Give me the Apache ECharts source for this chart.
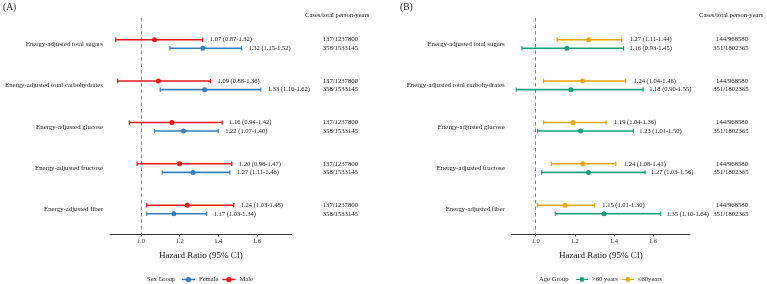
<!DOCTYPE html>
<html>
<head>
<meta charset="utf-8">
<script src="https://cdn.jsdelivr.net/npm/echarts@6/dist/echarts.min.js"></script>
<style>
  html, body { margin: 0; padding: 0; background: #fff; }
  #chart { width: 767px; height: 284px; }
</style>
</head>
<body>
<div id="chart"></div>
<script>
const categories = [
  'Energy-adjusted total sugars',
  'Energy-adjusted total carbohydrates',
  'Energy-adjusted glucose',
  'Energy-adjusted fructose',
  'Energy-adjusted fiber'
];
const tickValues = [1.0, 1.2, 1.4, 1.6];

// panel A: sex groups
const maleHR = [1.07, 1.09, 1.16, 1.20, 1.24];
const maleLow = [0.87, 0.88, 0.94, 0.98, 1.03];
const maleHigh = [1.32, 1.36, 1.42, 1.47, 1.48];
const femaleHR = [1.32, 1.33, 1.22, 1.27, 1.17];
const femaleLow = [1.15, 1.10, 1.07, 1.11, 1.03];
const femaleHigh = [1.52, 1.62, 1.40, 1.46, 1.34];
const maleCases = '137/1237800';
const femaleCases = '358/1533145';

// panel B: age groups
const youngHR = [1.27, 1.24, 1.19, 1.24, 1.15];
const youngLow = [1.11, 1.04, 1.04, 1.08, 1.01];
const youngHigh = [1.44, 1.46, 1.36, 1.41, 1.30];
const oldHR = [1.16, 1.18, 1.23, 1.27, 1.35];
const oldLow = [0.93, 0.90, 1.01, 1.03, 1.10];
const oldHigh = [1.45, 1.55, 1.50, 1.56, 1.64];
const youngCases = '144/968580';
const oldCases = '351/1802365';

const FONT = '"Liberation Serif", "DejaVu Serif", serif';
const RED = '#e41a1c', BLUE = '#377eb8', GREEN = '#15a07a', ORANGE = '#e9a50c';
const LEGEND_ICON = 'path://M0,4h20v2h-20z M10,1a4,4 0 1,1 0,8a4,4 0 1,1 0,-8z';

function rows(hr, lo, hi) {
  return hr.map((v, i) => [v, lo[i], hi[i], i + 1]);
}

function ciSeries(name, color, data, axis, opts) {
  return {
    name: name,
    type: 'custom',
    xAxisIndex: axis,
    yAxisIndex: axis,
    itemStyle: { color: color },
    data: data,
    encode: { x: [0, 1, 2], y: 3 },
    z: 5,
    renderItem: function (params, api) {
      const yv = api.value(3);
      const cs = params.coordSys;
      const pL = api.coord([api.value(1), yv]);
      const pH = api.coord([api.value(2), yv]);
      const pM = api.coord([api.value(0), yv]);
      const y = pL[1] + opts.offset;
      const label = api.value(0).toFixed(2) + ' (' + api.value(1).toFixed(2) + '-' + api.value(2).toFixed(2) + ')';
      const kids = [
        { type: 'line', shape: { x1: pL[0], y1: y, x2: pH[0], y2: y }, style: { stroke: color, lineWidth: 1.6 } },
        { type: 'line', shape: { x1: pL[0], y1: y - 2.2, x2: pL[0], y2: y + 2.2 }, style: { stroke: color, lineWidth: 1.2 } },
        { type: 'line', shape: { x1: pH[0], y1: y - 2.2, x2: pH[0], y2: y + 2.2 }, style: { stroke: color, lineWidth: 1.2 } },
        { type: 'circle', shape: { cx: pM[0], cy: y, r: 2.5 }, style: { fill: color } },
        { type: 'text', x: pH[0] + opts.gap, y: y,
          style: { text: label, fontSize: 6.5, fontFamily: FONT, fill: '#222', align: 'left', verticalAlign: 'middle' } },
        { type: 'text', x: cs.x + cs.width + opts.caseDx, y: y,
          style: { text: opts.cases, fontSize: 6.7, fontFamily: FONT, fill: '#222', align: opts.caseAlign, verticalAlign: 'middle' } }
      ];
      if (opts.cats) {
        kids.push({ type: 'text', x: cs.x - 7, y: pL[1],
          style: { text: categories[yv - 1], fontSize: 6.8, fontFamily: FONT, fill: '#222', align: 'right', verticalAlign: 'middle' } });
      }
      return { type: 'group', children: kids };
    },
    markLine: opts.ref ? {
      silent: true,
      symbol: 'none',
      label: { show: false },
      lineStyle: { type: [3.5, 3], color: '#8a8a8a', width: 1 },
      data: [{ xAxis: 1 }]
    } : undefined
  };
}

function xAxisFor(idx, min, max) {
  return {
    type: 'value',
    gridIndex: idx,
    min: min,
    max: max,
    splitLine: { show: false },
    axisLine: { show: true, lineStyle: { color: '#333', width: 1 } },
    axisTick: { show: true, length: 2.5, customValues: tickValues, lineStyle: { color: '#333' } },
    axisLabel: { customValues: tickValues, formatter: v => v.toFixed(1), fontSize: 6.6, fontFamily: FONT, color: '#333', margin: 4 },
    name: 'Hazard Ratio (95% CI)',
    nameLocation: 'middle',
    nameGap: 17,
    nameTextStyle: { fontSize: 9, fontFamily: FONT, color: '#222' }
  };
}

function yAxisFor(idx) {
  return {
    type: 'value',
    gridIndex: idx,
    inverse: true,
    min: 0.372,
    max: 5.592,
    show: false
  };
}

function label(text, left, top, size) {
  return { text: text, left: left, top: top, padding: 0,
    textStyle: { fontSize: size, fontWeight: 'normal', fontFamily: FONT, color: '#222' } };
}

const chart = echarts.init(document.getElementById('chart'), null, { renderer: 'canvas' });
chart.setOption({
  animation: false,
  backgroundColor: '#fff',
  title: [
    label('(A)', 3, 2, 9.5),
    label('(B)', 400, 2, 9.5),
    label('Cases/total person-years', 305, 12, 6.6),
    label('Cases/total person-years', 699, 12, 6.6),
    label('Sex Group', 147, 275.5, 6.6),
    label('Age Group', 539, 275.5, 6.6)
  ],
  legend: [
    {
      left: 182, top: 276, padding: 0, itemWidth: 13, itemHeight: 6, itemGap: 4,
      textStyle: { fontSize: 6.6, fontFamily: FONT, color: '#222', padding: [0, 0, 0, -1] },
      data: [{ name: 'Female', icon: LEGEND_ICON }, { name: 'Male', icon: LEGEND_ICON }]
    },
    {
      left: 576, top: 276, padding: 0, itemWidth: 12, itemHeight: 6, itemGap: 4,
      textStyle: { fontSize: 6.6, fontFamily: FONT, color: '#222', padding: [0, 0, 0, -1] },
      data: [{ name: '>60 years', icon: LEGEND_ICON }, { name: '≤60years', icon: LEGEND_ICON }]
    }
  ],
  grid: [
    { left: 110, width: 181.7, top: 18, height: 216, containLabel: false },
    { left: 511.7, width: 178.3, top: 18, height: 216, containLabel: false }
  ],
  xAxis: [xAxisFor(0, 0.84, 1.78), xAxisFor(1, 0.877, 1.79)],
  yAxis: [yAxisFor(0), yAxisFor(1)],
  series: [
    ciSeries('Male', RED, rows(maleHR, maleLow, maleHigh), 0,
      { offset: -4.3, gap: 7, cases: maleCases, caseDx: 31, caseAlign: 'left', cats: true, ref: true }),
    ciSeries('Female', BLUE, rows(femaleHR, femaleLow, femaleHigh), 0,
      { offset: 4.3, gap: 7, cases: femaleCases, caseDx: 31, caseAlign: 'left' }),
    ciSeries('≤60years', ORANGE, rows(youngHR, youngLow, youngHigh), 1,
      { offset: -4.3, gap: 8, cases: youngCases, caseDx: 58, caseAlign: 'right', cats: true, ref: true }),
    ciSeries('>60 years', GREEN, rows(oldHR, oldLow, oldHigh), 1,
      { offset: 4.3, gap: 6, cases: oldCases, caseDx: 58.5, caseAlign: 'right' })
  ]
});
</script>
</body>
</html>
